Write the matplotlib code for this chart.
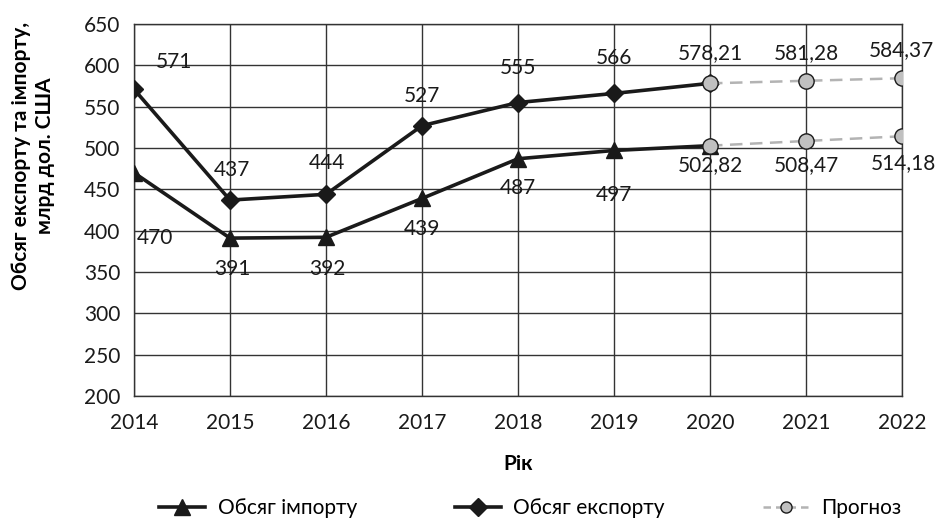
import matplotlib.pyplot as plt
from matplotlib.lines import Line2D

plt.rcParams['font.family'] = ['Lato', 'DejaVu Sans']

years = [2014, 2015, 2016, 2017, 2018, 2019, 2020]
import_vals = [470, 391, 392, 439, 487, 497, 502.82]
export_vals = [571, 437, 444, 527, 555, 566, 578.21]

fc_years = [2020, 2021, 2022]
fc_import = [502.82, 508.47, 514.18]
fc_export = [578.21, 581.28, 584.37]

# label offsets in pixels (dx, dy)
imp_off = [(21, -65), (2, -31), (1, -32), (0, -31), (0, -29), (0, -45)]
exp_off = [(40, 27), (2, 30), (1, 31), (0, 30), (0, 35), (0, 35)]
fc_imp_off = [(0, -19), (0, -24), (1, -27)]
fc_exp_off = [(0, 30), (0, 28), (-1, 28)]

fig = plt.figure(figsize=(9.42, 5.26), dpi=100)
ax = fig.add_axes([0.1423, 0.2471, 0.8152, 0.7073])

ax.plot(years, import_vals, color='#1a1a1a', lw=2.6, marker='^', ms=11, zorder=3)
ax.plot(years, export_vals, color='#1a1a1a', lw=2.6, marker='D', ms=9, zorder=3)
for fc in (fc_import, fc_export):
    ax.plot(fc_years, fc, color='#b3b3b3', lw=1.8, ls=(0, (5, 3)), marker='o', ms=11,
            mfc='#c0c0c0', mec='#1a1a1a', mew=1, zorder=4)

def label(x, v, off):
    txt = f'{v:.2f}'.replace('.', ',') if v != int(v) else str(int(v))
    ax.annotate(txt, (x, v), xytext=off, textcoords='offset pixels',
                ha='center', va='center', fontsize=15, color='#1a1a1a', zorder=5)

for x, v, o in zip(years[:-1], import_vals[:-1], imp_off):
    label(x, v, o)
for x, v, o in zip(years[:-1], export_vals[:-1], exp_off):
    label(x, v, o)
for x, v, o in zip(fc_years, fc_import, fc_imp_off):
    label(x, v, o)
for x, v, o in zip(fc_years, fc_export, fc_exp_off):
    label(x, v, o)

ax.set_xlim(2014, 2022)
ax.set_ylim(200, 650)
ax.set_xticks(range(2014, 2023))
ax.set_yticks(range(200, 651, 50))
ax.grid(True, color='#333333', lw=1)
for s in ax.spines.values():
    s.set_color('#333333')
    s.set_linewidth(1)
ax.tick_params(length=0, labelsize=15, colors='#1a1a1a')
ax.tick_params(axis='y', pad=10)
ax.tick_params(axis='x', pad=12)
ax.set_axisbelow(True)

ax.set_xlabel('Рік', fontsize=15, fontweight='bold')
ax.xaxis.set_label_coords(0.5, -0.155)
ax.set_ylabel('Обсяг експорту та імпорту,\nмлрд дол. США', fontsize=15,
              fontweight='bold', linespacing=1.25)
ax.yaxis.set_label_coords(-0.103, 0.645)

handles = [
    Line2D([], [], color='#1a1a1a', lw=2.6, marker='^', ms=11),
    Line2D([], [], color='#1a1a1a', lw=2.6, marker='D', ms=9),
    Line2D([], [], color='#b3b3b3', lw=1.8, ls=(0, (3, 2)), marker='o', ms=8,
           mfc='#c0c0c0', mec='#1a1a1a', mew=1),
]
fig.legend(handles, ['Обсяг імпорту', 'Обсяг експорту', 'Прогноз'], loc='center',
           bbox_to_anchor=(0.563, 0.034), ncol=3, frameon=False, fontsize=15,
           handlelength=2.2, handletextpad=0.6, columnspacing=4.7)

fig.savefig('out.png', dpi=100)
